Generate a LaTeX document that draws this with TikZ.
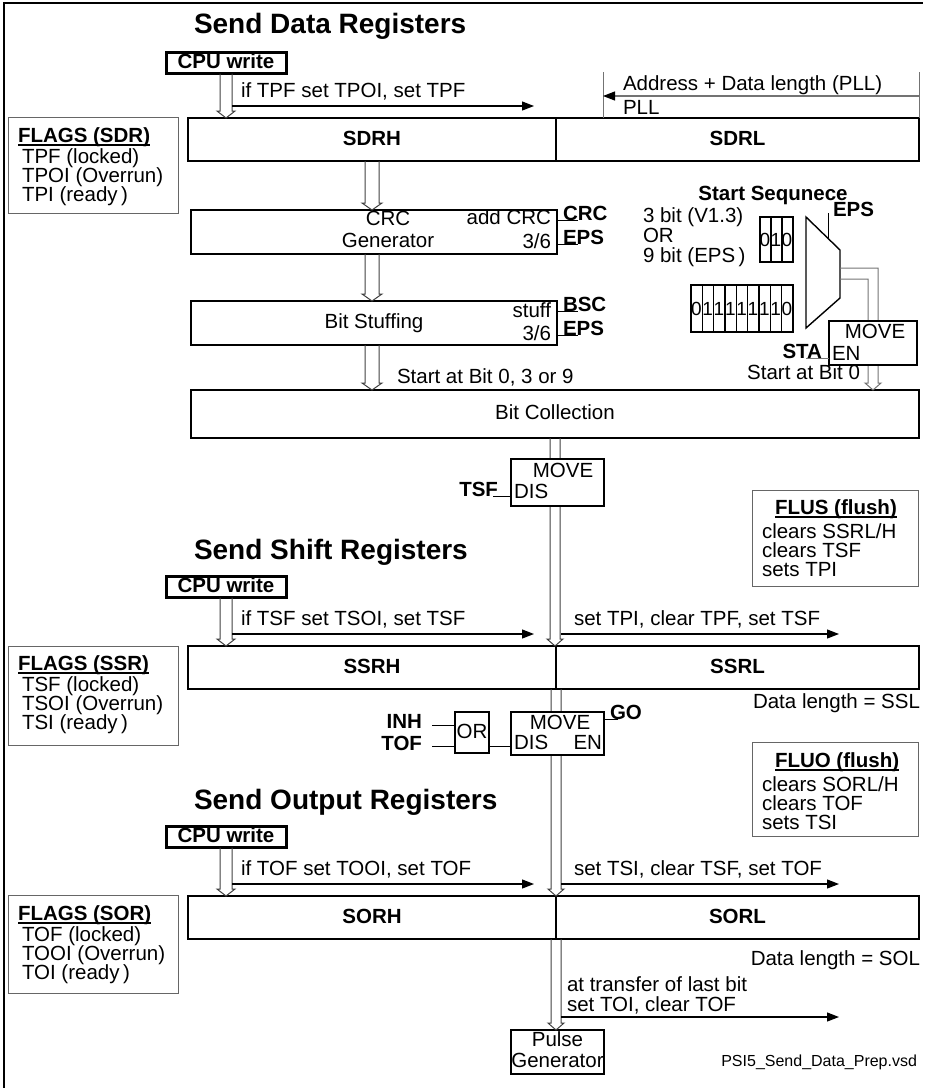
\documentclass[tikz,border=0pt]{standalone}
\usepackage{fontspec}
\setmainfont{Liberation Sans}
\usetikzlibrary{arrows.meta,calc}
\newcommand\hollowarr[3]{%
  \draw[hol] let \p1=(#1), \p2=(#2) in
    (\x1-#3pt,\y1) -- (\x1-#3pt,\y2+7pt) -- (\x1-#3pt-3pt,\y2+7pt) -- (\x1,\y2)
    -- (\x1+#3pt+3pt,\y2+7pt) -- (\x1+#3pt,\y2+7pt) -- (\x1+#3pt,\y1);}
\newcommand\ulnode[1]{%
  \draw[line width=1.3pt] ([yshift=-2.5pt]#1.base west) -- ([yshift=-2.5pt]#1.base east);}
\begin{document}
\begin{tikzpicture}[x=1pt,y=-1pt,
  every node/.style={inner sep=0pt, outer sep=0pt},
  tx/.style={font=\fontsize{20.5}{23}\selectfont, text height=15pt, text depth=4pt},
  bx/.style={tx, font=\fontsize{20.5}{23}\selectfont\bfseries},
  ttl/.style={font=\fontsize{28}{31}\selectfont\bfseries},
  dg/.style={font=\fontsize{19}{20}\selectfont},
  reg/.style={draw, line width=2.6pt, bx, minimum height=43pt},
  cpu/.style={draw, line width=3pt, bx, minimum width=120pt, minimum height=21pt, text height=14pt, text depth=3pt},
  blk/.style={draw, line width=1.4pt, fill=white, tx},
  flag/.style={draw=black!60, line width=1pt},
  hol/.style={draw=black!75, line width=1pt},
  arr/.style={line width=1.2pt, -{Triangle[length=12pt,width=9pt,color=black]}},
  gl/.style={draw=black!55, line width=1pt},
  pin/.style={line width=1pt},
]
\useasboundingbox (0,0) rectangle (926,1088);
\draw[line width=1.5pt] (4,1088) -- (4,3) -- (923,3);

% ---------------- Section 1 ----------------
\node[ttl, anchor=west] (title1) at (194,26) {Send Data Registers};
\node[cpu] (cpu1) at (226,63) {CPU write};
\node[reg, minimum width=368pt] (sdrh) at (372,139.5) {SDRH};
\node[reg, minimum width=363pt] (sdrl) at (737.5,139.5) {SDRL};
\hollowarr{cpu1.south}{sdrh.north}{6}
\coordinate (a1s) at (232,106); \coordinate (a1e) at (534,106);
\draw[arr] (a1s) -- (a1e);
\node[tx, anchor=west] (a1t) at (241,92) {if TPF set TPOI, set TPF};

\coordinate (adL) at (603,72); \coordinate (adR) at (919,72);
\draw[gl] (adL) -- (adL |- sdrl.north);
\draw[gl] (adR) -- (adR |- sdrl.north);
\coordinate (adA) at (919,96); \coordinate (adB) at (603,96);
\draw[gl, arr] (adA) -- (adB);
\node[tx, anchor=west] (adt) at (623,85) {Address + Data length (PLL)};
\node[tx, anchor=west] (pll) at (623,109) {PLL};

\node[flag, minimum width=170pt, minimum height=96pt] (fl1) at (93,165) {};
\node[bx, anchor=west] (fl1a) at (18,137) {FLAGS (SDR)};
\ulnode{fl1a}
\node[tx, anchor=west] (fl1b) at (22,158) {TPF (locked)};
\node[tx, anchor=west] (fl1c) at (22,177) {TPOI (Overrun)};
\node[tx, anchor=west] (fl1d) at (22,196) {TPI (ready\,)};

\node[blk, minimum width=366pt, minimum height=44pt] (crc) at (374,232) {};
\node[tx] (crct1) at (388,220) {CRC};
\node[tx] (crct2) at (388,242) {Generator};
\node[tx, anchor=east] (crct3) at (551,219) {add CRC};
\node[tx, anchor=east] (crct4) at (551,243) {3/6};
\coordinate (crcp1) at (578,220); \coordinate (crcp2) at (578,244);
\draw[pin] (crc.east |- crcp1) -- (crcp1);
\draw[pin] (crc.east |- crcp2) -- (crcp2);
\node[bx, anchor=base west] (crcl1) at (563,220) {CRC};
\node[bx, anchor=base west] (crcl2) at (563,244) {EPS};
\hollowarr{sdrh.south}{crc.north}{7}

\node[blk, minimum width=366pt, minimum height=44pt] (bs) at (374,323) {Bit Stuffing};
\node[tx, anchor=east] (bst1) at (551,312) {stuff};
\node[tx, anchor=east] (bst2) at (551,335) {3/6};
\coordinate (bsp1) at (578,311); \coordinate (bsp2) at (578,335);
\draw[pin] (bs.east |- bsp1) -- (bsp1);
\draw[pin] (bs.east |- bsp2) -- (bsp2);
\node[bx, anchor=base west] (bsl1) at (563,311) {BSC};
\node[bx, anchor=base west] (bsl2) at (563,335) {EPS};
\hollowarr{crc.south -| sdrh.south}{bs.north}{7}

\node[blk, minimum width=728pt, minimum height=48pt] (bc) at (555,414) {Bit Collection};
\hollowarr{bs.south -| sdrh.south}{bc.north}{7}
\node[tx, anchor=west] (sb1) at (397,378) {Start at Bit 0, 3 or 9};

% start sequence
\node[bx] (ssq) at (773,195) {Start Sequnece};
\node[tx, anchor=west] (v13) at (643,217) {3 bit (V1.3)};
\node[tx, anchor=west] (orr) at (643,237) {OR};
\node[tx, anchor=west] (b9) at (643,257) {9 bit (EPS\,)};
\draw[line width=1.4pt] (760,217) rectangle (793,262);
\foreach \xx in {771,782} \draw[line width=1.4pt] (\xx,217) -- (\xx,262);
\foreach \d [count=\i from 0] in {0,1,0}
  \node[dg] (sd\i) at (765+11*\i,239.5) {\d};
\draw[line width=1.4pt] (691,285) rectangle (793,332);
\foreach \i in {1,...,8} \draw[line width=1.4pt] (691+11.333*\i,285) -- (691+11.333*\i,332);
\foreach \d [count=\i from 0] in {0,1,1,1,1,1,1,1,0}
  \node[dg] (ld\i) at (696.3+11.333*\i,308.5) {\d};
\draw[line width=1.4pt] (806,217) -- (840,250) -- (840,298) -- (806,328) -- cycle;
\coordinate (epsA) at (828,238); \coordinate (epsB) at (828,213);
\draw[pin] (epsA) -- (epsB);
\node[bx, anchor=west] (epsl) at (833,211) {EPS};
\draw[gl] (840,268) -- (878,268) -- (878,383) -- (881,383) -- (873,390) -- (865,383) -- (868,383) -- (868,279) -- (840,279);
\node[blk, minimum width=88pt, minimum height=44pt] (mv0) at (873,343) {};
\node[tx] (mv0a) at (875,333) {MOVE};
\node[tx, anchor=west] (mv0b) at (832,355) {EN};
\coordinate (sta) at (806,358);
\draw[gl] (sta) -- (mv0.west |- sta);
\node[bx, anchor=base east] (stal) at (822,358) {STA};
\node[tx, anchor=east] (sb0) at (860,374) {Start at Bit 0};

% ---------------- Section 2 ----------------
\node[ttl, anchor=west] (title2) at (194,552) {Send Shift Registers};
\node[cpu] (cpu2) at (226,587) {CPU write};
\node[reg, minimum width=368pt] (ssrh) at (372,667.5) {SSRH};
\node[reg, minimum width=363pt] (ssrl) at (737.5,667.5) {SSRL};
\hollowarr{cpu2.south}{ssrh.north}{6}
\hollowarr{bc.south}{ssrh.north east}{5}
\node[blk, minimum width=93pt, minimum height=47pt] (mv1) at (557.5,482.5) {};
\node[tx] (mv1a) at (563,472) {MOVE};
\node[tx, anchor=west] (mv1b) at (514,493) {DIS};
\coordinate (tsfp) at (493,496);
\draw[pin] (tsfp) -- (mv1.west |- tsfp);
\node[bx, anchor=base east] (tsfl) at (498,496) {TSF};

\coordinate (a2s) at (232,634); \coordinate (a2e) at (534,634);
\draw[arr] (a2s) -- (a2e);
\node[tx, anchor=west] (a2t) at (241,620) {if TSF set TSOI, set TSF};
\coordinate (a3s) at (561,634); \coordinate (a3e) at (839,634);
\draw[arr] (a3s) -- (a3e);
\node[tx, anchor=west] (a3t) at (574,620) {set TPI, clear TPF, set TSF};

\node[flag, minimum width=166pt, minimum height=96pt] (flus) at (835,538) {};
\node[bx, anchor=west] (flus1) at (775,509) {FLUS (flush)};
\ulnode{flus1}
\node[tx, anchor=west] (flus2) at (762,533) {clears SSRL/H};
\node[tx, anchor=west] (flus3) at (762,552) {clears TSF};
\node[tx, anchor=west] (flus4) at (762,571) {sets TPI};

\node[flag, minimum width=170pt, minimum height=99pt] (fl2) at (93,695.5) {};
\node[bx, anchor=west] (fl2a) at (18,665) {FLAGS (SSR)};
\ulnode{fl2a}
\node[tx, anchor=west] (fl2b) at (22,686) {TSF (locked)};
\node[tx, anchor=west] (fl2c) at (22,705) {TSOI (Overrun)};
\node[tx, anchor=west] (fl2d) at (22,724) {TSI (ready\,)};
\node[tx, anchor=east] (dl1) at (920,703) {Data length = SSL};

% ---------------- Section 3 ----------------
\node[reg, minimum width=368pt] (sorh) at (372,917.5) {SORH};
\node[reg, minimum width=363pt] (sorl) at (737.5,917.5) {SORL};
\hollowarr{ssrh.south east}{sorh.north east}{5}
\node[blk, minimum width=93pt, minimum height=43pt] (mv2) at (557.5,733.5) {};
\node[tx] (mv2a) at (560,724) {MOVE};
\node[tx, anchor=west] (mv2b) at (514,744) {DIS};
\node[tx, anchor=east] (mv2c) at (602,744) {EN};
\coordinate (gop) at (618,719);
\draw[pin] (mv2.east |- gop) -- (gop);
\node[bx, anchor=base west] (gol) at (610,719) {GO};
\node[blk, minimum width=34pt, minimum height=41pt] (orb) at (472,732.5) {OR};
\coordinate (disy) at (0,746);
\draw[pin] (orb.east |- disy) -- (mv2.west |- disy);
\coordinate (inhp) at (432,725); \coordinate (tofp) at (432,746);
\draw[pin] (inhp) -- (orb.west |- inhp);
\draw[pin] (tofp) -- (orb.west |- tofp);
\node[bx, anchor=east] (inhl) at (422,723) {INH};
\node[bx, anchor=east] (tofl) at (422,745) {TOF};

\node[flag, minimum width=166pt, minimum height=94pt] (fluo) at (835,789) {};
\node[bx, anchor=west] (fluo1) at (775,762) {FLUO (flush)};
\ulnode{fluo1}
\node[tx, anchor=west] (fluo2) at (762,786) {clears SORL/H};
\node[tx, anchor=west] (fluo3) at (762,805) {clears TOF};
\node[tx, anchor=west] (fluo4) at (762,824) {sets TSI};

\node[ttl, anchor=west] (title3) at (194,802) {Send Output Registers};
\node[cpu] (cpu3) at (226,837) {CPU write};
\hollowarr{cpu3.south}{sorh.north}{6}
\coordinate (a4s) at (232,884); \coordinate (a4e) at (534,884);
\draw[arr] (a4s) -- (a4e);
\node[tx, anchor=west] (a4t) at (241,870) {if TOF set TOOI, set TOF};
\coordinate (a5s) at (561,884); \coordinate (a5e) at (839,884);
\draw[arr] (a5s) -- (a5e);
\node[tx, anchor=west] (a5t) at (574,870) {set TSI, clear TSF, set TOF};

\node[flag, minimum width=170pt, minimum height=98pt] (fl3) at (93,944) {};
\node[bx, anchor=west] (fl3a) at (18,915) {FLAGS (SOR)};
\ulnode{fl3a}
\node[tx, anchor=west] (fl3b) at (22,936) {TOF (locked)};
\node[tx, anchor=west] (fl3c) at (22,955) {TOOI (Overrun)};
\node[tx, anchor=west] (fl3d) at (22,974) {TOI (ready\,)};
\node[tx, anchor=east] (dl2) at (920,960) {Data length = SOL};

\node[blk, minimum width=93pt, minimum height=44pt] (pulse) at (557.5,1052) {};
\node[tx] (pul1) at (557.5,1041) {Pulse};
\node[tx] (pul2) at (557.5,1062) {Generator};
\hollowarr{sorh.south east}{pulse.north}{5}
\node[tx, anchor=west] (a6t1) at (567,986) {at transfer of last bit};
\node[tx, anchor=west] (a6t2) at (567,1006) {set TOI, clear TOF};
\coordinate (a6s) at (561,1017); \coordinate (a6e) at (839,1017);
\draw[arr] (a6s) -- (a6e);
\node[font=\fontsize{16}{18}\selectfont, anchor=east] (fname) at (917,1062) {PSI5\_Send\_Data\_Prep.vsd};
\end{tikzpicture}
\end{document}
